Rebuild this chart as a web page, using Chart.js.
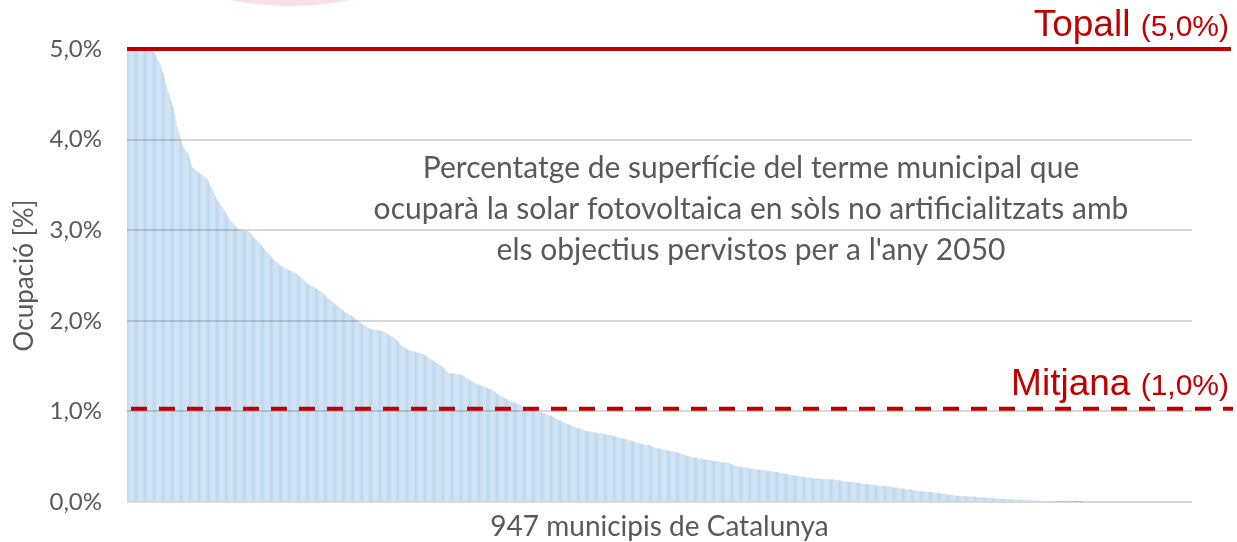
<!DOCTYPE html>
<html lang="ca">

<head>
    <meta charset="UTF-8">
    <title>Ocupació solar fotovoltaica</title>
    <script src="https://cdn.jsdelivr.net/npm/chart.js@4.4.1/dist/chart.umd.min.js"></script>
    <style>
        html, body { margin: 0; padding: 0; background: #fff; }
        .grafic { position: relative; width: 1237px; height: 542px; }
    </style>
</head>

<body>
    <div class="grafic">
        <canvas id="grafic_ocupacio"></canvas>
    </div>

<script>
    // percentatge del terme municipal ocupat, ordenat de més a menys (947 municipis)
    const ocupacio = [
        8.4, 7.1, 6.6, 6.2, 5.9, 5.7, 5.6, 5.5, 5.4, 5.35,
        5.3, 5.25, 5.2, 5.17, 5.14, 5.11, 5.08, 5.06, 5.04, 5.03,
        5.02, 5.01, 5.0, 4.97, 4.96, 4.93, 4.91, 4.88, 4.86, 4.83,
        4.79, 4.75, 4.72, 4.68, 4.63, 4.58, 4.53, 4.50, 4.45, 4.42,
        4.38, 4.35, 4.28, 4.21, 4.15, 4.10, 4.06, 4.02, 3.98, 3.94,
        3.91, 3.89, 3.87, 3.86, 3.84, 3.80, 3.76, 3.72, 3.69, 3.68,
        3.67, 3.66, 3.65, 3.64, 3.63, 3.62, 3.61, 3.60, 3.59, 3.58,
        3.57, 3.56, 3.54, 3.51, 3.48, 3.46, 3.44, 3.41, 3.38, 3.35,
        3.32, 3.31, 3.29, 3.27, 3.26, 3.24, 3.22, 3.20, 3.18, 3.16,
        3.14, 3.12, 3.10, 3.09, 3.07, 3.06, 3.04, 3.03, 3.02, 3.01,
        3.01, 3.00, 3.00, 3.00, 2.99, 2.99, 2.99, 2.99, 2.98, 2.97,
        2.96, 2.94, 2.92, 2.91, 2.90, 2.89, 2.88, 2.86, 2.85, 2.83,
        2.82, 2.80, 2.79, 2.77, 2.76, 2.75, 2.73, 2.72, 2.70, 2.69,
        2.68, 2.66, 2.65, 2.64, 2.63, 2.62, 2.61, 2.60, 2.60, 2.59,
        2.58, 2.57, 2.57, 2.56, 2.56, 2.55, 2.55, 2.54, 2.53, 2.53,
        2.52, 2.51, 2.50, 2.49, 2.48, 2.47, 2.46, 2.45, 2.43, 2.42,
        2.41, 2.40, 2.40, 2.39, 2.38, 2.38, 2.37, 2.36, 2.36, 2.35,
        2.34, 2.33, 2.32, 2.31, 2.30, 2.29, 2.28, 2.26, 2.25, 2.24,
        2.23, 2.22, 2.21, 2.20, 2.19, 2.18, 2.17, 2.16, 2.15, 2.14,
        2.13, 2.12, 2.11, 2.10, 2.09, 2.09, 2.08, 2.07, 2.06, 2.06,
        2.05, 2.04, 2.03, 2.02, 2.01, 2.00, 1.99, 1.98, 1.97, 1.96,
        1.95, 1.95, 1.94, 1.93, 1.92, 1.92, 1.91, 1.91, 1.91, 1.90,
        1.90, 1.90, 1.90, 1.89, 1.89, 1.89, 1.89, 1.88, 1.88, 1.87,
        1.86, 1.86, 1.85, 1.84, 1.83, 1.83, 1.82, 1.81, 1.80, 1.79,
        1.78, 1.76, 1.75, 1.73, 1.72, 1.71, 1.71, 1.70, 1.69, 1.69,
        1.68, 1.67, 1.67, 1.67, 1.66, 1.66, 1.66, 1.65, 1.65, 1.65,
        1.65, 1.64, 1.64, 1.63, 1.62, 1.62, 1.61, 1.60, 1.59, 1.58,
        1.57, 1.57, 1.56, 1.55, 1.54, 1.54, 1.53, 1.52, 1.51, 1.50,
        1.49, 1.48, 1.47, 1.45, 1.44, 1.42, 1.42, 1.42, 1.42, 1.42,
        1.42, 1.42, 1.41, 1.41, 1.41, 1.41, 1.41, 1.40, 1.40, 1.39,
        1.38, 1.37, 1.36, 1.35, 1.35, 1.34, 1.33, 1.33, 1.32, 1.31,
        1.31, 1.30, 1.30, 1.29, 1.29, 1.28, 1.28, 1.27, 1.27, 1.26,
        1.26, 1.25, 1.25, 1.25, 1.24, 1.23, 1.22, 1.21, 1.20, 1.19,
        1.18, 1.18, 1.17, 1.16, 1.16, 1.15, 1.14, 1.14, 1.13, 1.12,
        1.12, 1.11, 1.11, 1.10, 1.10, 1.09, 1.09, 1.08, 1.08, 1.07,
        1.07, 1.06, 1.06, 1.05, 1.05, 1.04, 1.04, 1.03, 1.03, 1.02,
        1.02, 1.02, 1.01, 1.01, 1.00, 1.00, 1.00, 0.99, 0.99, 0.98,
        0.98, 0.98, 0.97, 0.97, 0.96, 0.96, 0.96, 0.95, 0.94, 0.93,
        0.93, 0.92, 0.91, 0.91, 0.90, 0.90, 0.89, 0.88, 0.88, 0.87,
        0.87, 0.86, 0.86, 0.85, 0.85, 0.84, 0.84, 0.83, 0.83, 0.82,
        0.82, 0.81, 0.81, 0.81, 0.80, 0.80, 0.79, 0.79, 0.79, 0.78,
        0.78, 0.78, 0.78, 0.77, 0.77, 0.77, 0.77, 0.76, 0.76, 0.76,
        0.76, 0.76, 0.75, 0.75, 0.75, 0.75, 0.74, 0.74, 0.74, 0.74,
        0.74, 0.73, 0.73, 0.73, 0.72, 0.72, 0.72, 0.71, 0.71, 0.71,
        0.70, 0.70, 0.70, 0.69, 0.69, 0.69, 0.68, 0.68, 0.68, 0.67,
        0.67, 0.66, 0.66, 0.65, 0.65, 0.65, 0.64, 0.64, 0.64, 0.64,
        0.63, 0.63, 0.63, 0.63, 0.63, 0.62, 0.62, 0.61, 0.61, 0.60,
        0.60, 0.60, 0.59, 0.59, 0.59, 0.58, 0.58, 0.58, 0.57, 0.57,
        0.57, 0.57, 0.56, 0.56, 0.56, 0.56, 0.55, 0.55, 0.55, 0.55,
        0.54, 0.54, 0.53, 0.53, 0.53, 0.52, 0.52, 0.51, 0.51, 0.51,
        0.50, 0.50, 0.50, 0.50, 0.49, 0.49, 0.49, 0.48, 0.48, 0.48,
        0.48, 0.48, 0.47, 0.47, 0.47, 0.47, 0.47, 0.46, 0.46, 0.46,
        0.46, 0.45, 0.45, 0.45, 0.45, 0.45, 0.45, 0.44, 0.44, 0.44,
        0.44, 0.44, 0.44, 0.44, 0.43, 0.43, 0.42, 0.42, 0.41, 0.41,
        0.40, 0.40, 0.40, 0.39, 0.39, 0.39, 0.39, 0.38, 0.38, 0.38,
        0.38, 0.38, 0.37, 0.37, 0.37, 0.37, 0.37, 0.37, 0.36, 0.36,
        0.36, 0.36, 0.36, 0.36, 0.35, 0.35, 0.35, 0.35, 0.35, 0.34,
        0.34, 0.34, 0.34, 0.34, 0.33, 0.33, 0.33, 0.33, 0.33, 0.33,
        0.32, 0.32, 0.32, 0.32, 0.31, 0.31, 0.31, 0.31, 0.30, 0.30,
        0.30, 0.30, 0.30, 0.29, 0.29, 0.29, 0.29, 0.29, 0.28, 0.28,
        0.28, 0.28, 0.28, 0.27, 0.27, 0.27, 0.27, 0.27, 0.27, 0.26,
        0.26, 0.26, 0.26, 0.26, 0.26, 0.26, 0.26, 0.25, 0.25, 0.25,
        0.25, 0.25, 0.25, 0.25, 0.25, 0.25, 0.25, 0.25, 0.25, 0.24,
        0.24, 0.24, 0.24, 0.24, 0.24, 0.23, 0.23, 0.23, 0.23, 0.23,
        0.23, 0.22, 0.22, 0.22, 0.22, 0.22, 0.22, 0.21, 0.21, 0.21,
        0.21, 0.21, 0.21, 0.20, 0.20, 0.20, 0.20, 0.20, 0.20, 0.19,
        0.19, 0.19, 0.19, 0.19, 0.19, 0.19, 0.18, 0.18, 0.18, 0.18,
        0.18, 0.18, 0.18, 0.18, 0.18, 0.17, 0.17, 0.17, 0.17, 0.17,
        0.16, 0.16, 0.16, 0.16, 0.16, 0.16, 0.15, 0.15, 0.15, 0.15,
        0.15, 0.15, 0.14, 0.14, 0.14, 0.14, 0.14, 0.14, 0.13, 0.13,
        0.13, 0.13, 0.13, 0.12, 0.12, 0.12, 0.12, 0.12, 0.12, 0.12,
        0.11, 0.11, 0.11, 0.11, 0.11, 0.11, 0.11, 0.10, 0.10, 0.10,
        0.10, 0.10, 0.10, 0.09, 0.09, 0.09, 0.09, 0.09, 0.08, 0.08,
        0.08, 0.08, 0.08, 0.08, 0.08, 0.07, 0.07, 0.07, 0.07, 0.07,
        0.07, 0.07, 0.065, 0.065, 0.065, 0.065, 0.06, 0.06, 0.06, 0.06,
        0.06, 0.06, 0.06, 0.058, 0.057, 0.056, 0.055, 0.055, 0.055, 0.054,
        0.053, 0.052, 0.05, 0.05, 0.048, 0.047, 0.046, 0.045, 0.044, 0.042,
        0.041, 0.04, 0.039, 0.038, 0.037, 0.036, 0.035, 0.034, 0.034, 0.033,
        0.032, 0.032, 0.031, 0.03, 0.03, 0.029, 0.029, 0.028, 0.028, 0.027,
        0.027, 0.026, 0.026, 0.025, 0.025, 0.024, 0.023, 0.022, 0.021, 0.02,
        0.02, 0.019, 0.019, 0.018, 0.018, 0.017, 0.017, 0.016, 0.016, 0.015,
        0.014, 0.014, 0.013, 0.012, 0.012, 0.011, 0.011, 0.01, 0.01, 0.009,
        0.009, 0.008, 0.008, 0.007, 0.007, 0.006, 0.006, 0.005, 0.005, 0.005,
        0.004, 0.004, 0.004, 0.003, 0.003, 0.003, 0.003, 0.002, 0.002, 0.002,
        0.002, 0.002, 0.001, 0.001, 0.001, 0.001, 0.001, 0.001, 0.001, 0.001,
        0, 0, 0, 0, 0, 0, 0, 0, 0, 0,
        0, 0, 0, 0, 0, 0, 0, 0, 0, 0,
        0, 0, 0, 0, 0, 0, 0, 0, 0, 0,
        0, 0, 0, 0, 0, 0, 0, 0, 0, 0,
        0, 0, 0, 0, 0, 0, 0, 0, 0, 0,
        0, 0, 0, 0, 0, 0, 0, 0, 0, 0,
        0, 0, 0, 0, 0, 0, 0, 0, 0, 0,
        0, 0, 0, 0, 0, 0, 0, 0, 0, 0,
        0, 0, 0, 0, 0, 0, 0, 0, 0, 0,
        0, 0, 0, 0, 0, 0, 0
    ];

    // llindars
    const topall = 5.0;
    const mitjana = 1.03;

    const textNota = [
        'Percentatge de superfície del terme municipal que',
        'ocuparà la solar fotovoltaica en sòls no artificialitzats amb',
        "els objectius pervistos per a l'any 2050"
    ];

    const municipis = ocupacio.map(function (v, i) { return i + 1; });

    const vermell = '#c00000';
    const gris = '#595959';

    function percent(v) {
        return v.toFixed(1).replace('.', ',') + '%';
    }

    // cercle rosat del logotip, tallat pel marge superior
    const fonsLogo = {
        id: 'fonsLogo',
        beforeDraw(chart) {
            const ctx = chart.ctx;
            ctx.save();
            ctx.fillStyle = 'rgb(249,225,227)';
            ctx.beginPath();
            ctx.arc(290, -300, 306, 0, Math.PI * 2);
            ctx.fill();
            ctx.restore();
        }
    };

    // línies de topall i mitjana + text explicatiu
    const llindars = {
        id: 'llindars',
        afterDraw(chart) {
            const ctx = chart.ctx;
            const area = chart.chartArea;
            const y = chart.scales.y;
            const fi = chart.width - 6;

            ctx.save();
            ctx.strokeStyle = vermell;
            ctx.lineWidth = 4;

            const yTop = y.getPixelForValue(topall);
            ctx.beginPath();
            ctx.moveTo(area.left, yTop);
            ctx.lineTo(fi, yTop);
            ctx.stroke();

            const yMit = y.getPixelForValue(mitjana);
            ctx.setLineDash([16, 12]);
            ctx.beginPath();
            ctx.moveTo(area.left + 4, yMit);
            ctx.lineTo(fi + 2, yMit);
            ctx.stroke();
            ctx.setLineDash([]);

            etiqueta(ctx, 'Mitjana', '(' + percent(mitjana) + ')', 1229, yMit - 14);
            etiqueta(ctx, 'Topall', '(' + percent(topall) + ')', 1229, yTop - 13);

            ctx.fillStyle = gris;
            ctx.font = '30px Lato';
            ctx.textAlign = 'center';
            ctx.textBaseline = 'middle';
            textNota.forEach(function (linia, i) {
                ctx.fillText(linia, 751, 168 + i * 41);
            });
            ctx.restore();
        }
    };

    function etiqueta(ctx, nom, valor, x, base) {
        ctx.fillStyle = vermell;
        ctx.textAlign = 'right';
        ctx.textBaseline = 'alphabetic';
        ctx.font = '30px "Liberation Sans"';
        const w = ctx.measureText(valor).width;
        ctx.fillText(valor, x, base);
        ctx.font = '37px "Liberation Sans"';
        ctx.fillText(nom + ' ', x - w, base);
    }

    new Chart(document.getElementById('grafic_ocupacio'), {
        type: 'bar',
        data: {
            labels: municipis,
            datasets: [{
                data: ocupacio,
                backgroundColor: 'rgb(187,214,238)',
                borderWidth: 0,
                barPercentage: 0.85,
                categoryPercentage: 1,
                clip: 0
            }]
        },
        options: {
            responsive: true,
            maintainAspectRatio: false,
            animation: false,
            layout: { padding: { top: 49, right: 45, left: 0, bottom: 0 } },
            plugins: {
                legend: { display: false },
                tooltip: { enabled: false }
            },
            scales: {
                x: {
                    ticks: { display: false },
                    grid: { display: false },
                    border: { display: false },
                    title: {
                        display: true,
                        text: '947 municipis de Catalunya',
                        color: gris,
                        font: { family: 'Lato', size: 28 },
                        padding: { top: 0, bottom: -2 }
                    },
                    afterFit(scale) { scale.height = 40; }
                },
                y: {
                    min: 0,
                    max: 5,
                    ticks: {
                        stepSize: 1,
                        padding: 25,
                        color: gris,
                        font: { family: 'Lato', size: 24 },
                        callback: function (v) { return percent(v); }
                    },
                    grid: {
                        color: 'rgba(0,0,0,0.15)',
                        lineWidth: 2,
                        drawTicks: false,
                        z: 1
                    },
                    border: { display: false },
                    title: {
                        display: true,
                        text: 'Ocupació [%]',
                        color: gris,
                        font: { family: 'Lato', size: 26 },
                        padding: { top: 9, bottom: 0 }
                    },
                    afterFit(scale) { scale.width = 127; }
                }
            }
        },
        plugins: [fonsLogo, llindars]
    });
</script>
</body>

</html>
